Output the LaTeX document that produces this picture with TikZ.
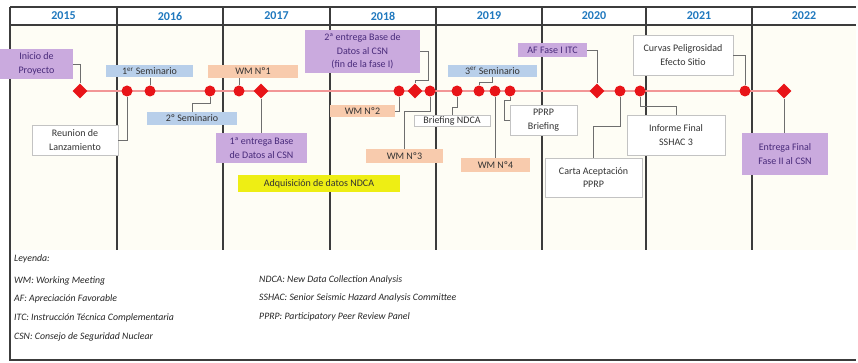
\documentclass[tikz,border=0pt]{standalone}
\usepackage{fontspec}
\setmainfont{Carlito}
\usetikzlibrary{shapes.geometric,calc}
\definecolor{yearblue}{RGB}{31,120,190}
\definecolor{framegray}{RGB}{60,60,60}
\definecolor{conngray}{RGB}{110,110,110}
\definecolor{lilac}{RGB}{202,170,222}
\definecolor{lilactext}{RGB}{72,42,122}
\definecolor{skyfill}{RGB}{184,207,234}
\definecolor{peach}{RGB}{248,203,173}
\definecolor{hiyellow}{RGB}{238,238,20}
\definecolor{boxgray}{RGB}{195,195,195}
\definecolor{tlred}{RGB}{242,150,150}
\definecolor{mkred}{RGB}{232,20,24}
\definecolor{cream}{RGB}{254,253,245}
\tikzset{
  boxbase/.style={rectangle, inner sep=0.5pt, align=center,
    font=\fontsize{10}{13.5}\selectfont},
  purplebox/.style={boxbase, fill=lilac, text=lilactext},
  bluebox/.style={boxbase, fill=skyfill, text=black!80},
  peachbox/.style={boxbase, fill=peach, text=black!80},
  yellowbox/.style={boxbase, fill=hiyellow, text=black!80},
  whitebox/.style={boxbase, fill=white, draw=boxgray, line width=0.8pt, text=black!80},
  circmark/.style={circle, fill=mkred, inner sep=0pt, minimum size=11},
  diamark/.style={diamond, fill=mkred, inner sep=0pt, minimum size=15, aspect=1},
  conn/.style={draw=conngray, line width=0.9pt},
  yearline/.style={draw=framegray, line width=1.4pt},
  yearlabel/.style={text=yearblue, font=\fontsize{12}{13}\selectfont\bfseries},
  legend/.style={anchor=west, inner sep=0pt, text=black!85,
    font=\fontsize{9.8}{11}\selectfont\itshape},
  wh/.style 2 args={minimum width=#1, minimum height=#2}
}
\begin{document}
\begin{tikzpicture}[x=1pt,y=-1pt]
\useasboundingbox (0,0) rectangle (858,363);
% background
\fill[white] (0,0) rectangle (858,363);
\fill[cream] (10,25) rectangle (856,250);
% header and frame
\draw[yearline] (10,7) -- (856,7);
\draw[yearline] (10,25) -- (856,25);
\draw[draw=framegray, line width=1.8pt] (10,7) -- (10,360) -- (856,360);
\foreach \x in {117,223,330,436,542,646,752}{
  \draw[yearline] (\x,7) -- (\x,250);
}
\foreach \x/\y [count=\i] in {63.5/2015,170/2016,276.5/2017,383/2018,489/2019,594/2020,699/2021,804/2022}{
  \node[yearlabel] (yr\i) at (\x,16) {\y};
}
% timeline
\coordinate (tlA) at (80,91);
\coordinate (tlB) at (784,91);
\draw[draw=tlred, line width=1.6pt] (tlA) -- (tlB);
% markers
\node[diamark] (m1) at (80,91) {};
\node[circmark] (m2) at (127,91) {};
\node[circmark] (m3) at (150,91) {};
\node[circmark] (m4) at (210,91) {};
\node[circmark] (m5) at (239,91) {};
\node[diamark] (m6) at (261,91) {};
\node[circmark] (m7) at (399,91) {};
\node[diamark] (m8) at (415,91) {};
\node[circmark] (m9) at (430,91) {};
\node[circmark] (m10) at (457,91) {};
\node[circmark] (m11) at (479,91) {};
\node[circmark] (m12) at (495,91) {};
\node[circmark] (m13) at (510,91) {};
\node[diamark] (m14) at (597,91) {};
\node[circmark] (m15) at (620,91) {};
\node[circmark] (m16) at (640,91) {};
\node[circmark] (m17) at (745,91) {};
\node[diamark] (m18) at (784,91) {};
% boxes
\node[purplebox, wh={73}{30}] (ini) at (36.5,64) {Inicio de\\Proyecto};
\node[whitebox, wh={86}{30}] (reu) at (75,140) {Reunion de\\Lanzamiento};
\node[bluebox, wh={87}{12}] (sem1) at (149.5,71.5) {1\textsuperscript{er} Seminario};
\node[bluebox, wh={90}{13}] (sem2) at (192,118.5) {2º Seminario};
\node[peachbox, wh={90}{13}] (wm1) at (253,71.5) {WM Nº1};
\node[purplebox, wh={91}{30}] (ent1) at (261.5,148) {1ª entrega Base\\de Datos al CSN};
\node[yellowbox, wh={162}{17}] (adq) at (319,183.5) {Adquisición de datos NDCA};
\node[purplebox, wh={115}{43}] (ent2) at (362.5,51.5) {2ª entrega Base de\\Datos al CSN\\(fin de la fase I)};
\node[peachbox, wh={65}{12}] (wm2) at (362.5,111) {WM Nº2};
\node[peachbox, wh={77}{14}] (wm3) at (404.5,156) {WM Nº3};
\node[whitebox, wh={76}{11}] (bnd) at (452,120.5) {Briefing NDCA};
\node[bluebox, wh={89}{12}] (sem3) at (492.5,71) {3\textsuperscript{er} Seminario};
\node[peachbox, wh={69}{14}] (wm4) at (495.5,165) {WM Nº4};
\node[whitebox, wh={67}{30}] (ppb) at (543.5,120) {PPRP\\Briefing};
\node[purplebox, wh={69}{14}] (af) at (552.5,50) {AF Fase I ITC};
\node[whitebox, wh={97}{39}] (carta) at (593.5,177.5) {Carta Aceptación\\PPRP};
\node[whitebox, wh={98}{40}] (inf) at (676,135) {Informe Final\\SSHAC 3};
\node[whitebox, wh={100}{40}] (curv) at (683,55) {Curvas Peligrosidad\\Efecto Sitio};
\node[purplebox, wh={86}{42}] (ef) at (785,154) {Entrega Final\\Fase II al CSN};
% connectors
\draw[conn] (ini.east) -| (m1);
\draw[conn] (m2) |- (reu.east);
\draw[conn] (m3) -- (m3 |- sem1.south);
\draw[conn] (m4) |- ($(sem2.north)+(0,-8)$) -- (sem2.north);
\draw[conn] (m5) -- (m5 |- wm1.south);
\draw[conn] (m6) -- (m6 |- ent1.north);
\draw[conn] (m7) |- (wm2.east);
\draw[conn] (ent2.east) -- ++(8,0) -- ++(0,28.5) -| (m8);
\draw[conn] (m9) |- ($(wm3.north)+(0,-37)$) -- (wm3.north);
\draw[conn] (m10) |- ($(bnd.north)+(0,-7)$) -- (bnd.north);
\draw[conn] (sem3.south) -- ++(0,5) -| (m11);
\draw[conn] (m12) -- (m12 |- wm4.north);
\draw[conn] (m13) |- ($(ppb.west)+(-5,-20)$) |- (ppb.west);
\draw[conn] (af.east) -| (m14);
\draw[conn] (m15) |- ($(carta.north)+(0,-31)$) -- (carta.north);
\draw[conn] (m16) |- ($(inf.north)+(0,-8)$) -- (inf.north);
\draw[conn] (curv.east) -| (m17);
\draw[conn] (m18) -- (m18 |- ef.north);
% legend
\node[legend] (lg0) at (14,259) {Leyenda:};
\node[legend] (lg1) at (14,281) {WM: Working Meeting};
\node[legend] (lg2) at (14,299) {AF: Apreciación Favorable};
\node[legend] (lg3) at (14,318) {ITC: Instrucción Técnica Complementaria};
\node[legend] (lg4) at (14,337) {CSN: Consejo de Seguridad Nuclear};
\node[legend] (lg5) at (259,280) {NDCA: New Data Collection Analysis};
\node[legend] (lg6) at (259,298) {SSHAC: Senior Seismic Hazard Analysis Committee};
\node[legend] (lg7) at (259,317) {PPRP: Participatory Peer Review Panel};
\end{tikzpicture}
\end{document}
